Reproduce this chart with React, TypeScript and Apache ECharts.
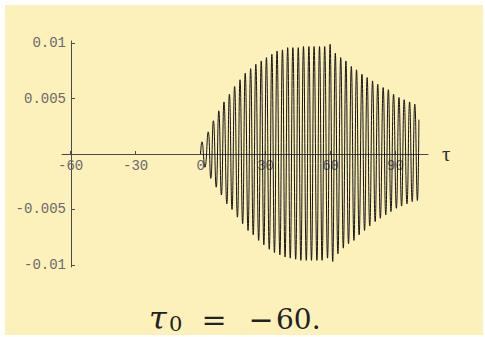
import React, { useEffect, useRef } from "react";
import * as echarts from "echarts";

// Oscillation read spike by spike: crest positions/heights and trough positions/depths.
const peakTau = [
  0.6, 3.5, 5.9, 8.4, 10.8, 13.3, 15.7, 18.2, 20.6, 23.1, 25.5, 28.0, 30.4, 32.9,
  35.3, 37.8, 40.2, 42.6, 45.1, 47.5, 50.0, 52.4, 54.9, 57.3, 59.8, 62.2, 64.7,
  67.1, 69.6, 72.0, 74.5, 76.9, 79.4, 81.8, 84.3, 86.7, 89.1, 91.6, 94.0, 96.5, 98.9,
];
const peakValue = [
  0.0011, 0.002, 0.003, 0.0039, 0.0047, 0.0054, 0.0061, 0.0067, 0.0073, 0.0077,
  0.0081, 0.0084, 0.0087, 0.009, 0.0093, 0.0094, 0.0096, 0.0096, 0.0096, 0.0097,
  0.0097, 0.0097, 0.0097, 0.0097, 0.0099, 0.0091, 0.0087, 0.0084, 0.0079, 0.0076,
  0.0072, 0.0069, 0.0066, 0.0063, 0.006, 0.0058, 0.0054, 0.0051, 0.0049, 0.0047, 0.0045,
];
const troughTau = [
  2.0, 4.7, 7.2, 9.6, 12.1, 14.5, 17.0, 19.4, 21.9, 24.3, 26.8, 29.2, 31.7, 34.1,
  36.6, 39.0, 41.4, 43.9, 46.3, 48.8, 51.2, 53.7, 56.1, 58.6, 61.0, 63.4, 65.9,
  68.3, 70.8, 73.2, 75.7, 78.1, 80.6, 83.0, 85.5, 87.9, 90.4, 92.8, 95.3, 97.7, 100.1,
];
const troughValue = [
  -0.0012, -0.0022, -0.003, -0.0037, -0.0045, -0.005, -0.0057, -0.0063, -0.0069,
  -0.0073, -0.0078, -0.0082, -0.0086, -0.0089, -0.0091, -0.0093, -0.0094, -0.0095,
  -0.0096, -0.0096, -0.0096, -0.0096, -0.0096, -0.0094, -0.0097, -0.009, -0.0085,
  -0.0081, -0.0078, -0.0073, -0.0069, -0.0065, -0.0061, -0.0058, -0.0055, -0.0052,
  -0.0049, -0.0047, -0.0045, -0.0043, -0.0042,
];
const startPoint: [number, number] = [0, 0];
const endPoint: [number, number] = [100.8, 0.0031];

const tauTicks = [-60, -30, 0, 30, 60, 90];
const valueTicks = [-0.01, -0.005, 0.005, 0.01];

const tauMin = -64;
const tauMax = 105;
const valueMin = -0.0102;
const valueMax = 0.0102;

const axisColor = "#4a4a4a";
const labelColor = "#6a6a6a";
const monoFont = "Liberation Mono";
const serifFont = "DejaVu Serif";

function buildSignal(): [number, number][] {
  const pts: [number, number][] = [startPoint];
  for (let i = 0; i < peakTau.length; i++) {
    pts.push([peakTau[i], peakValue[i]]);
    pts.push([troughTau[i], troughValue[i]]);
  }
  pts.push(endPoint);
  return pts;
}

export default function App() {
  const ref = useRef<HTMLDivElement>(null);

  useEffect(() => {
    if (!ref.current) return;
    const chart = echarts.init(ref.current, undefined, { renderer: "svg" });
    const labelStyle = {
      fontFamily: monoFont,
      fontSize: 14,
      color: labelColor,
    };
    const titleText = (text: string, x: number, y: number, font: string, align: string) => ({
      type: "text",
      x,
      y,
      style: { text, font, fill: "#222", textAlign: align, textVerticalAlign: "middle" },
    });
    chart.setOption({
      animation: false,
      backgroundColor: "transparent",
      grid: [
        // plotting area for the signal
        { left: 62, top: 41, width: 366, height: 226 },
        // vertical axis, crossing the horizontal one at tau = -60
        { left: 71, top: 41, width: 20, height: 226 },
        // horizontal axis drawn along value = 0
        { left: 62, top: 41, width: 366, height: 113 },
      ],
      xAxis: [
        { type: "value", gridIndex: 0, min: tauMin, max: tauMax, show: false },
        { type: "value", gridIndex: 1, min: 0, max: 1, show: false },
        {
          type: "value",
          gridIndex: 2,
          min: tauMin,
          max: tauMax,
          position: "bottom",
          axisLine: { show: true, onZero: false, lineStyle: { color: axisColor, width: 1 } },
          axisTick: {
            show: true,
            inside: true,
            length: 3,
            customValues: tauTicks,
            lineStyle: { color: axisColor },
          },
          axisLabel: { ...labelStyle, margin: 5, customValues: tauTicks },
          splitLine: { show: false },
          name: "τ",
          nameLocation: "end",
          nameGap: 14,
          nameTextStyle: { fontFamily: "Liberation Serif", fontSize: 21, color: "#333" },
        },
      ],
      yAxis: [
        { type: "value", gridIndex: 0, min: valueMin, max: valueMax, show: false },
        {
          type: "value",
          gridIndex: 1,
          min: valueMin,
          max: valueMax,
          axisLine: { show: true, onZero: false, lineStyle: { color: axisColor, width: 1 } },
          axisTick: {
            show: true,
            inside: true,
            length: 4,
            customValues: valueTicks,
            lineStyle: { color: axisColor },
          },
          axisLabel: { ...labelStyle, margin: 5, customValues: valueTicks },
          splitLine: { show: false },
        },
        { type: "value", gridIndex: 2, min: 0, max: 1, show: false },
      ],
      series: [
        {
          type: "line",
          xAxisIndex: 0,
          yAxisIndex: 0,
          data: buildSignal(),
          showSymbol: false,
          smooth: true,
          lineStyle: { color: "#151515", width: 1 },
          z: 3,
        },
      ],
      graphic: [
        {
          type: "group",
          children: [
            titleText("τ", 149, 318, `italic 32px ${serifFont}`, "left"),
            titleText("0", 169, 324, `21px ${serifFont}`, "left"),
            titleText("=", 214, 319, `30px ${serifFont}`, "center"),
            titleText("−", 261, 319, `30px ${serifFont}`, "center"),
            titleText("60.", 276, 319, `28px ${serifFont}`, "left"),
          ],
        },
      ],
    });
    return () => chart.dispose();
  }, []);

  return (
    <div
      style={{
        position: "fixed",
        left: 0,
        top: 0,
        width: 485,
        height: 337,
        background:
          "linear-gradient(#fcf0bb, #fcf0bb) 5px 5px / 478px 330px no-repeat, #ffffff",
      }}
    >
      <div ref={ref} style={{ width: 485, height: 337 }} />
    </div>
  );
}
